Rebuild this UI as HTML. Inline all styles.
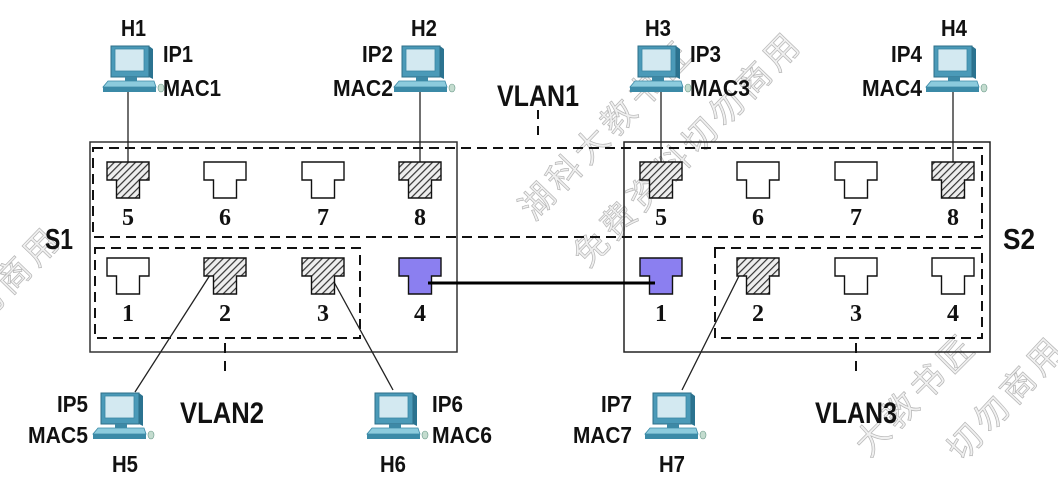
<!DOCTYPE html>
<html><head><meta charset="utf-8"><style>
html,body{margin:0;padding:0;background:#fff;width:1058px;height:477px;overflow:hidden;}
svg{display:block;overflow:hidden;}
.t{font-family:"Liberation Sans",Arial,sans-serif;font-weight:bold;fill:#111;}
.d{font-family:"Liberation Serif","Times New Roman",serif;font-weight:bold;fill:#111;font-size:24px;text-anchor:middle;}
.wm{font-family:"Liberation Sans","Noto Sans CJK SC",sans-serif;font-size:34px;fill:#f0f0f0;stroke:#b5b5b5;stroke-width:0.7;letter-spacing:5px;}
</style></head><body>
<svg width="1058" height="477" viewBox="0 0 1058 477" xmlns="http://www.w3.org/2000/svg">
<defs>
<clipPath id="frame"><rect x="0" y="0" width="1058" height="477"/></clipPath>
<pattern id="hatch" patternUnits="userSpaceOnUse" width="5" height="5" patternTransform="rotate(45)">
<rect width="5" height="5" fill="#eeeeee"/>
<line x1="0" y1="0" x2="0" y2="5" stroke="#333" stroke-width="2.4"/>
</pattern>
<g id="pc">
<polygon points="38,0 42,3 42,33 38,31" fill="#2b7390"/>
<rect x="0" y="0" width="38" height="31" fill="#4b9ab8" stroke="#2e6f88" stroke-width="1"/>
<rect x="4" y="3" width="29" height="22" fill="#d3e9f1" stroke="#3a86a3" stroke-width="0.8"/>
<rect x="14" y="31" width="12" height="4" fill="#3d89a6"/>
<polygon points="-3,35 43,35 45,41 -8,41" fill="#8ccbdd" stroke="#3b8aa7" stroke-width="0.8"/>
<rect x="-8" y="41" width="53" height="5" fill="#3b8aa7"/>
<ellipse cx="50" cy="42" rx="3" ry="4" fill="#c4dccf" stroke="#6a9a8a" stroke-width="0.6"/>
</g>
</defs>
<g clip-path="url(#frame)">
<!-- watermarks -->
<text class="wm" transform="translate(534,222) rotate(-46)">湖科大教书匠</text>
<text class="wm" transform="translate(588,269) rotate(-46)">免费资料切勿商用</text>
<text class="wm" transform="translate(869,458) rotate(-45)">大教书匠</text>
<text class="wm" transform="translate(962,463) rotate(-47)">切勿商用</text>
<text class="wm" transform="translate(-44,352) rotate(-46)">切勿商用</text>

<!-- switch boxes -->
<rect x="90" y="142" width="367" height="210" fill="none" stroke="#333" stroke-width="1.5"/>
<rect x="624" y="142" width="366" height="210" fill="none" stroke="#222" stroke-width="1.5"/>

<!-- VLAN dashed areas -->
<g fill="none" stroke="#111" stroke-width="2" stroke-dasharray="10,6">
<rect x="93" y="148" width="889" height="89"/>
<rect x="95" y="248" width="265" height="90"/>
<rect x="715" y="248" width="267" height="90"/>
<line x1="538" y1="110" x2="538" y2="140" stroke-dasharray="9,7"/>
<line x1="225" y1="343" x2="225" y2="376" stroke-dasharray="10,8"/>
<line x1="856" y1="343" x2="856" y2="376" stroke-dasharray="10,8"/>
</g>

<!-- host lines -->
<g stroke="#222" stroke-width="1.3">
<line x1="128" y1="92" x2="128" y2="163"/>
<line x1="420" y1="92" x2="420" y2="163"/>
<line x1="661" y1="92" x2="661" y2="163"/>
<line x1="953" y1="92" x2="953" y2="163"/>
<line x1="135" y1="392" x2="212" y2="272"/>
<line x1="393" y1="390" x2="334" y2="282"/>
<line x1="682" y1="390" x2="741" y2="272"/>
</g>

<!-- ports -->
<g stroke="#111" stroke-width="1.4">
<path d="M107,162H149V180H139.5V198H116.5V180H107Z" fill="url(#hatch)"/>
<path d="M204,162H246V180H236.5V198H213.5V180H204Z" fill="#fff"/>
<path d="M302,162H344V180H334.5V198H311.5V180H302Z" fill="#fff"/>
<path d="M399,162H441V180H431.5V198H408.5V180H399Z" fill="url(#hatch)"/>
<path d="M107,258H149V276H139.5V294H116.5V276H107Z" fill="#fff"/>
<path d="M204,258H246V276H236.5V294H213.5V276H204Z" fill="url(#hatch)"/>
<path d="M302,258H344V276H334.5V294H311.5V276H302Z" fill="url(#hatch)"/>
<path d="M399,258H441V276H431.5V294H408.5V276H399Z" fill="#8b7ff0"/>
<path d="M640,162H682V180H672.5V198H649.5V180H640Z" fill="url(#hatch)"/>
<path d="M737,162H779V180H769.5V198H746.5V180H737Z" fill="#fff"/>
<path d="M835,162H877V180H867.5V198H844.5V180H835Z" fill="#fff"/>
<path d="M932,162H974V180H964.5V198H941.5V180H932Z" fill="url(#hatch)"/>
<path d="M640,258H682V276H672.5V294H649.5V276H640Z" fill="#8b7ff0"/>
<path d="M737,258H779V276H769.5V294H746.5V276H737Z" fill="url(#hatch)"/>
<path d="M835,258H877V276H867.5V294H844.5V276H835Z" fill="#fff"/>
<path d="M932,258H974V276H964.5V294H941.5V276H932Z" fill="#fff"/>
</g>

<!-- trunk link -->
<line x1="428" y1="283" x2="655" y2="283" stroke="#000" stroke-width="3"/>

<!-- port numbers -->
<text class="d" x="128" y="225">5</text>
<text class="d" x="225" y="225">6</text>
<text class="d" x="323" y="225">7</text>
<text class="d" x="420" y="225">8</text>
<text class="d" x="128" y="321">1</text>
<text class="d" x="225" y="321">2</text>
<text class="d" x="323" y="321">3</text>
<text class="d" x="420" y="321">4</text>
<text class="d" x="661" y="225">5</text>
<text class="d" x="758" y="225">6</text>
<text class="d" x="856" y="225">7</text>
<text class="d" x="953" y="225">8</text>
<text class="d" x="661" y="321">1</text>
<text class="d" x="758" y="321">2</text>
<text class="d" x="856" y="321">3</text>
<text class="d" x="953" y="321">4</text>

<!-- computers -->
<use href="#pc" x="111" y="46"/>
<use href="#pc" x="402" y="46"/>
<use href="#pc" x="638" y="46"/>
<use href="#pc" x="934" y="46"/>
<use href="#pc" x="101" y="393"/>
<use href="#pc" x="375" y="393"/>
<use href="#pc" x="653" y="393"/>

<!-- switch labels -->
<text class="t" x="45" y="249" font-size="29" textLength="28" lengthAdjust="spacingAndGlyphs">S1</text>
<text class="t" x="1003" y="249" font-size="29" textLength="32" lengthAdjust="spacingAndGlyphs">S2</text>

<!-- VLAN labels -->
<text class="t" x="497" y="106" font-size="30" textLength="82" lengthAdjust="spacingAndGlyphs">VLAN1</text>
<text class="t" x="180" y="423" font-size="30" textLength="84" lengthAdjust="spacingAndGlyphs">VLAN2</text>
<text class="t" x="815" y="423" font-size="30" textLength="82" lengthAdjust="spacingAndGlyphs">VLAN3</text>

<g class="t" font-size="23">
<text x="121" y="36" textLength="25" lengthAdjust="spacingAndGlyphs">H1</text>
<text x="163" y="62" textLength="30" lengthAdjust="spacingAndGlyphs">IP1</text>
<text x="163" y="96" textLength="58" lengthAdjust="spacingAndGlyphs">MAC1</text>

<text x="411" y="36" textLength="26" lengthAdjust="spacingAndGlyphs">H2</text>
<text x="362" y="62" textLength="31" lengthAdjust="spacingAndGlyphs">IP2</text>
<text x="333" y="96" textLength="60" lengthAdjust="spacingAndGlyphs">MAC2</text>

<text x="645" y="36" textLength="26" lengthAdjust="spacingAndGlyphs">H3</text>
<text x="690" y="62" textLength="31" lengthAdjust="spacingAndGlyphs">IP3</text>
<text x="690" y="96" textLength="60" lengthAdjust="spacingAndGlyphs">MAC3</text>

<text x="941" y="36" textLength="26" lengthAdjust="spacingAndGlyphs">H4</text>
<text x="891" y="62" textLength="31" lengthAdjust="spacingAndGlyphs">IP4</text>
<text x="862" y="96" textLength="60" lengthAdjust="spacingAndGlyphs">MAC4</text>

<text x="57" y="412" textLength="31" lengthAdjust="spacingAndGlyphs">IP5</text>
<text x="28" y="443" textLength="60" lengthAdjust="spacingAndGlyphs">MAC5</text>
<text x="112" y="472" textLength="26" lengthAdjust="spacingAndGlyphs">H5</text>

<text x="432" y="412" textLength="31" lengthAdjust="spacingAndGlyphs">IP6</text>
<text x="432" y="443" textLength="60" lengthAdjust="spacingAndGlyphs">MAC6</text>
<text x="380" y="472" textLength="26" lengthAdjust="spacingAndGlyphs">H6</text>

<text x="601" y="412" textLength="31" lengthAdjust="spacingAndGlyphs">IP7</text>
<text x="573" y="443" textLength="59" lengthAdjust="spacingAndGlyphs">MAC7</text>
<text x="659" y="472" textLength="26" lengthAdjust="spacingAndGlyphs">H7</text>
</g>
</g>
</svg>
</body></html>
